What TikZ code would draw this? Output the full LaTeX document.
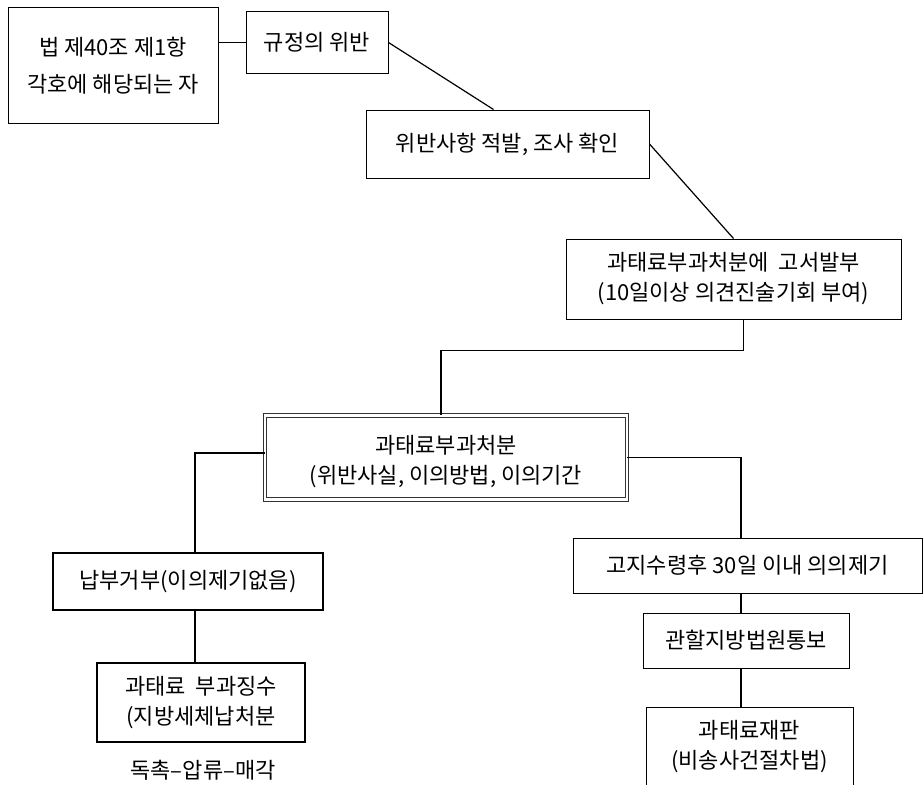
\documentclass[tikz,border=0pt]{standalone}
\usepackage{fontspec}
\setmainfont{Noto Sans CJK KR}
\begin{document}
\begin{tikzpicture}[x=1pt,y=-1pt,
  box/.style={draw,line width=1pt,inner sep=0pt,align=center,font=\fontsize{22}{30}\selectfont},
  thickbox/.style={box,line width=1.8pt},
  dbox/.style={box,draw=black!80,line width=0.9pt,double,double distance=2.6pt},
  link/.style={line width=1.6pt}]
\useasboundingbox (0,0) rectangle (923,784);
\clip (0,0) rectangle (923,784);
\node[box,minimum width=210pt,minimum height=115pt] (who) at (113,65.5) {법 제40조 제1항\\[7pt]각호에 해당되는 자};
\node[box,minimum width=142pt,minimum height=61pt] (rule) at (317,42.5) {규정의 위반};
\node[box,minimum width=283pt,minimum height=68pt] (check) at (507.5,144) {위반사항 적발, 조사 확인};
\node[box,minimum width=335pt,minimum height=80pt] (notice) at (733.5,279) {과태료부과처분에 \ 고서발부\\(10일이상 의견진술기회 부여)};
\node[dbox,minimum width=362pt,minimum height=84pt] (main) at (446,457.5) {\rule{0pt}{26pt}과태료부과처분\\(위반사실, 이의방법, 이의기간};
\node[thickbox,minimum width=270pt,minimum height=57pt] (refuse) at (188,581.5) {납부거부(이의제기없음)};
\node[thickbox,minimum width=208pt,minimum height=79pt] (collect) at (201,702.5) {과태료 \ 부과징수\\(지방세체납처분};
\node[font=\fontsize{22}{30}\selectfont,inner sep=0pt] (steps) at (203,770) {독촉–압류–매각};
\node[box,minimum width=349pt,minimum height=55pt] (appeal) at (747.5,565.5) {고지수령후 30일 이내 의의제기};
\node[box,minimum width=206pt,minimum height=55pt] (court) at (746,640.5) {관할지방법원통보};
\node[box,minimum width=207pt,minimum height=80pt] (trial) at (749.5,747) {과태료재판\\(비송사건절차법)};
\draw[link] (who.east |- rule.west) -- (rule.west);
\draw[line width=1.2pt] (rule.east) -- ([xshift=-14pt]check.north);
\draw[line width=1.2pt] (check.east) -- (notice.north);
\draw[link] ([xshift=10pt]notice.south) -- ++(0,31) -| ([xshift=-5pt]main.north);
\draw[link] ([yshift=4.5pt]main.west) -| ([xshift=7pt]refuse.north);
\draw[link] ([xshift=7pt]refuse.south) -- ([xshift=-6pt]collect.north);
\draw[link] (main.east) -| ([xshift=-6.5pt]appeal.north);
\draw[link] ([xshift=-6.5pt]appeal.south) -- ([xshift=-5pt]court.north);
\draw[link] ([xshift=-5pt]court.south) -- ([xshift=-8.5pt]trial.north);
\end{tikzpicture}
\end{document}
